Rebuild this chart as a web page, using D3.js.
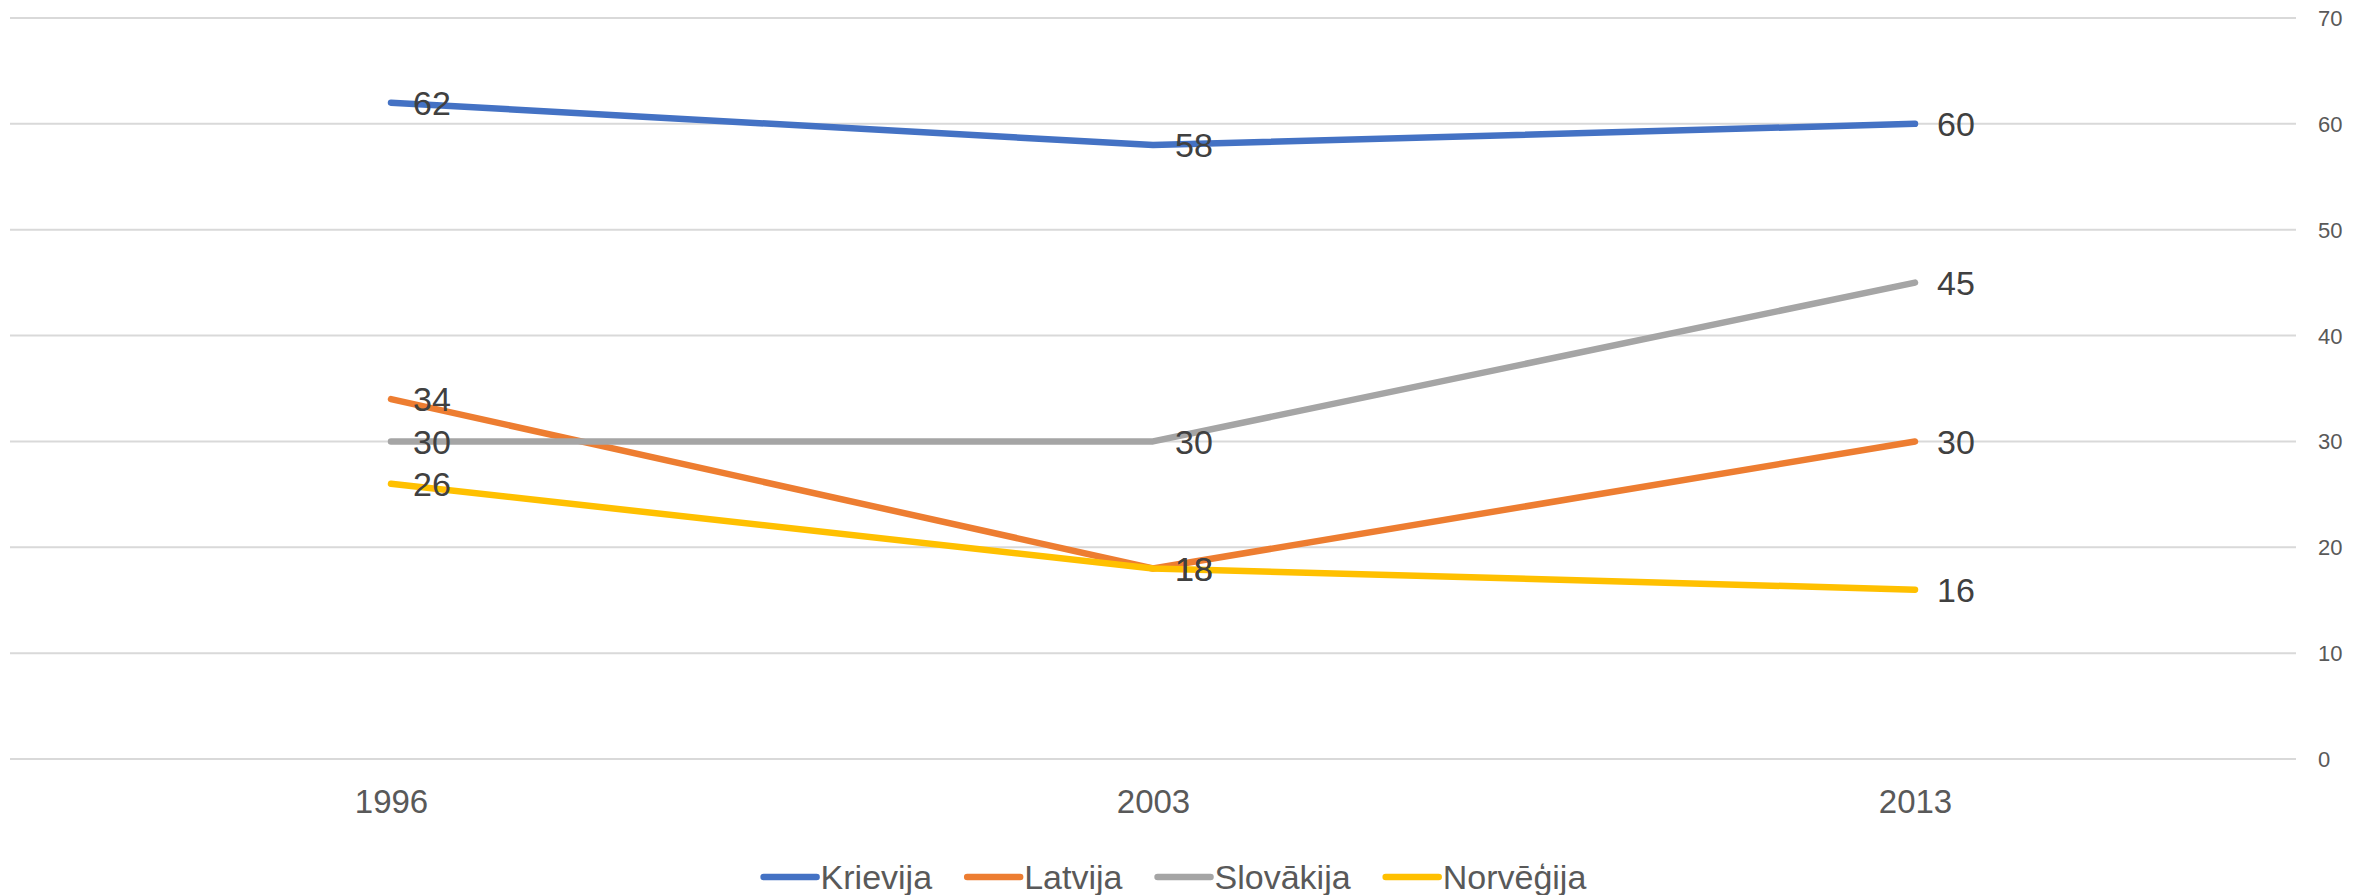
<!DOCTYPE html>
<html>
<head>
<meta charset="utf-8">
<script src="https://cdn.jsdelivr.net/npm/d3@7"></script>
<style>
  html, body { margin: 0; padding: 0; background: #fff; }
  svg { display: block; }
  text { font-family: "Liberation Sans", Arial, sans-serif; }
</style>
</head>
<body>
<svg id="chart" width="2366" height="895"></svg>
<script>
const categories = ["1996", "2003", "2013"];
const seriesNames = ["Krievija", "Latvija", "Slovākija", "Norvēģija"];
const krievija = [62, 58, 60];
const latvija = [34, 18, 30];
const slovakija = [30, 30, 45];
const norvegija = [26, 18, 16];
const yTicks = [0, 10, 20, 30, 40, 50, 60, 70];
const colors = ["#4472C4", "#ED7D31", "#A5A5A5", "#FFC000"];

const seriesValues = [krievija, latvija, slovakija, norvegija];
const series = seriesNames.map((name, i) => ({ name, values: seriesValues[i], color: colors[i] }));

const svg = d3.select("#chart");
const plot = { left: 10, right: 2296, top: 18, bottom: 759 };

const x = d3.scalePoint().domain(categories).range([plot.left, plot.right]).padding(0.5);
const y = d3.scaleLinear().domain([0, 70]).range([plot.bottom, plot.top]);

// gridlines
svg.append("g").selectAll("line").data(yTicks).join("line")
  .attr("x1", plot.left).attr("x2", plot.right)
  .attr("y1", d => y(d)).attr("y2", d => y(d))
  .attr("stroke", "#D9D9D9").attr("stroke-width", 2);

// right y axis labels
const yAxis = d3.axisRight(y).tickValues(yTicks).tickSize(0).tickPadding(0);
const ya = svg.append("g").attr("transform", `translate(2318,0)`).call(yAxis);
ya.select(".domain").remove();
ya.selectAll("text").attr("font-size", 22).attr("fill", "#595959")
  .attr("font-family", "Liberation Sans, Arial, sans-serif").attr("x", 0).attr("dy", "0.34em");

// x axis labels
const xAxis = d3.axisBottom(x).tickSize(0).tickPadding(0);
const xa = svg.append("g").attr("transform", `translate(0,${plot.bottom})`).call(xAxis);
xa.select(".domain").remove();
xa.selectAll("text").attr("font-size", 33).attr("fill", "#595959")
  .attr("font-family", "Liberation Sans, Arial, sans-serif").attr("y", 0).attr("dy", "1.64em");

// lines
const line = d3.line().x((d, i) => x(categories[i])).y(d => y(d));
svg.append("g").selectAll("path").data(series).join("path")
  .attr("d", d => line(d.values))
  .attr("fill", "none")
  .attr("stroke", d => d.color)
  .attr("stroke-width", 6.5)
  .attr("stroke-linecap", "round")
  .attr("stroke-linejoin", "round");

// data labels
const labelG = svg.append("g");
series.forEach(s => {
  labelG.selectAll(null).data(s.values).join("text")
    .attr("x", (d, i) => x(categories[i]) + 22)
    .attr("y", d => y(d))
    .attr("dy", "0.36em")
    .attr("font-size", 34)
    .attr("fill", "#404040")
    .text(d => d);
});

// legend
const legendY = 877;
const swatch = 53, swGap = 4, itemGap = 35;
const lg = svg.append("g");
const items = lg.selectAll("g").data(series).join("g");
items.append("line").attr("x1", 0).attr("x2", swatch).attr("y1", 0).attr("y2", 0)
  .attr("stroke", d => d.color).attr("stroke-width", 6.5).attr("stroke-linecap", "round");
items.append("text").attr("x", swatch + swGap).attr("y", 0).attr("dy", "0.35em")
  .attr("font-size", 34).attr("fill", "#595959").text(d => d.name);
let widths = [];
items.each(function() { widths.push(this.getBBox().width); });
const total = widths.reduce((a, b) => a + b, 0) + itemGap * (widths.length - 1);
let cx = 1175 - total / 2;
items.attr("transform", (d, i) => {
  const t = `translate(${cx},${legendY})`;
  cx += widths[i] + itemGap;
  return t;
});
</script>
</body>
</html>
